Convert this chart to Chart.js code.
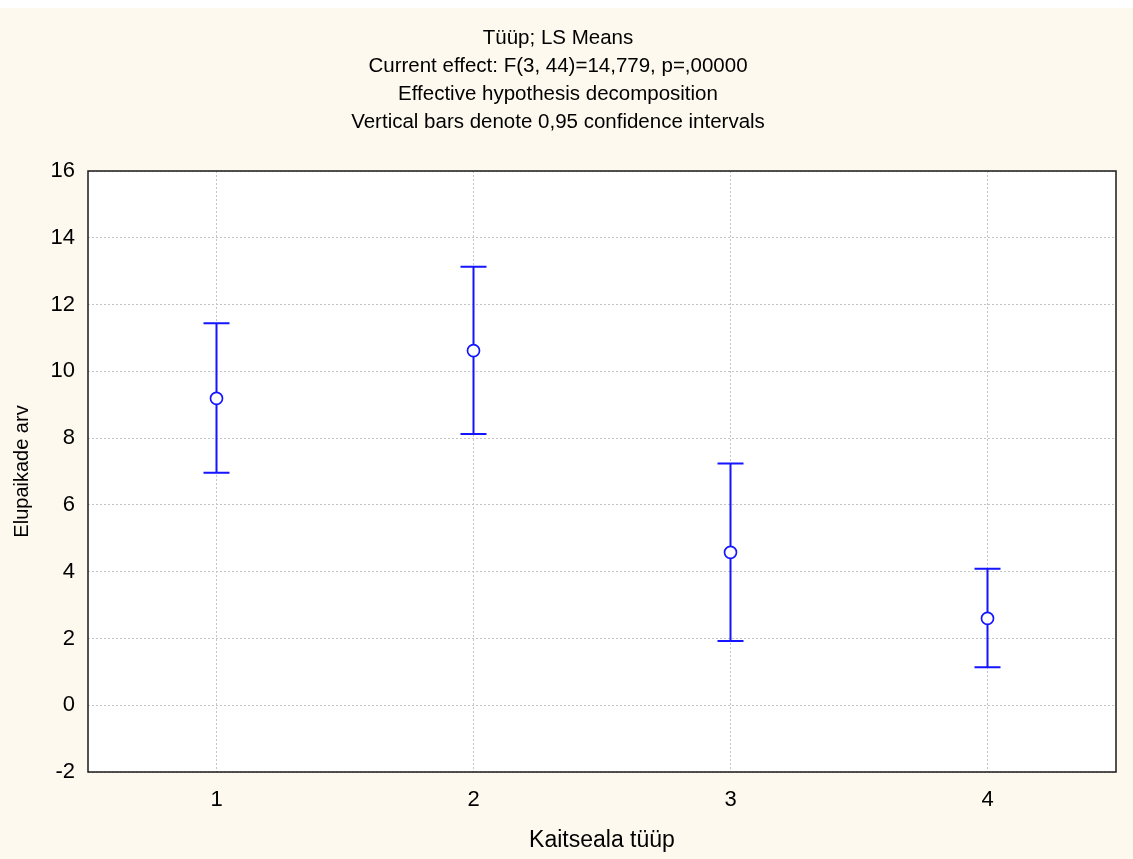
<!DOCTYPE html>
<html>
<head>
<meta charset="utf-8">
<script src="https://cdn.jsdelivr.net/npm/chart.js@4"></script>
<style>
  body { margin: 0; background: #ffffff; }
  #wrap { position: absolute; left: 0; top: 8px; width: 1133px; height: 851px; background: #fdf9ee; }
</style>
</head>
<body>
<div id="wrap"><canvas id="myChart" width="1133" height="851"></canvas></div>
<script>
const categories = ["1", "2", "3", "4"];
const means = [9.19, 10.62, 4.58, 2.6];
const lower = [6.96, 8.12, 1.92, 1.14];
const upper = [11.44, 13.13, 7.24, 4.09];
const yTicks = [-2, 0, 2, 4, 6, 8, 10, 12, 14, 16];

const titleLines = [
  "Tüüp; LS Means",
  "Current effect: F(3, 44)=14,779, p=,00000",
  "Effective hypothesis decomposition",
  "Vertical bars denote 0,95 confidence intervals",
];

const blue = "#1515ff";
const font = "'Liberation Sans', Arial, sans-serif";

// white plot area + black frame
const plotBox = {
  id: "plotBox",
  beforeDraw(chart) {
    const { ctx, chartArea: a } = chart;
    ctx.save();
    ctx.fillStyle = "#ffffff";
    ctx.fillRect(a.left, a.top, a.right - a.left, a.bottom - a.top);
    ctx.restore();
  },
  afterDraw(chart) {
    const { ctx, chartArea: a } = chart;
    ctx.save();
    ctx.strokeStyle = "#1a1a1a";
    ctx.lineWidth = 1.5;
    ctx.strokeRect(a.left, a.top, a.right - a.left, a.bottom - a.top);
    ctx.restore();
  },
};

// confidence interval whiskers
const errorBars = {
  id: "errorBars",
  beforeDatasetsDraw(chart) {
    const { ctx, scales: { x, y } } = chart;
    ctx.save();
    ctx.strokeStyle = blue;
    ctx.lineWidth = 2;
    categories.forEach((c, i) => {
      const px = x.getPixelForValue(i);
      const lo = y.getPixelForValue(lower[i]);
      const hi = y.getPixelForValue(upper[i]);
      ctx.beginPath();
      ctx.moveTo(px, lo);
      ctx.lineTo(px, hi);
      ctx.moveTo(px - 13, lo);
      ctx.lineTo(px + 13, lo);
      ctx.moveTo(px - 13, hi);
      ctx.lineTo(px + 13, hi);
      ctx.stroke();
    });
    ctx.restore();
  },
};

const myChart = new Chart(document.getElementById("myChart").getContext("2d"), {
  type: "line",
  data: {
    labels: categories,
    datasets: [
      {
        data: means,
        showLine: false,
        pointRadius: 6,
        pointHoverRadius: 6,
        pointBackgroundColor: "#ffffff",
        pointBorderColor: blue,
        pointBorderWidth: 1.7,
      },
    ],
  },
  options: {
    responsive: false,
    animation: false,
    layout: { padding: { left: 0, right: 17, top: 0, bottom: 0 } },
    plugins: {
      legend: { display: false },
      tooltip: { enabled: false },
      title: {
        display: true,
        text: titleLines,
        color: "#000000",
        font: { family: font, size: 20.5, weight: "normal", lineHeight: 28 / 20.5 },
        padding: { top: 16, bottom: 35 },
      },
    },
    scales: {
      x: {
        type: "category",
        offset: true,
        grid: { color: "#c4c4c4", borderDash: [2, 2], drawTicks: false, lineWidth: 1 },
        border: { display: false, dash: [2, 2] },
        ticks: { color: "#000000", padding: 15, font: { family: font, size: 22 } },
        title: {
          display: true,
          text: "Kaitseala tüüp",
          color: "#000000",
          font: { family: font, size: 23 },
          padding: { top: 0, bottom: 5 },
        },
        afterFit(scale) { scale.height = 87; },
      },
      y: {
        min: -2,
        max: 16,
        afterBuildTicks(scale) { scale.ticks = yTicks.map((v) => ({ value: v })); },
        grid: { color: "#c4c4c4", drawTicks: false, lineWidth: 1 },
        border: { display: false, dash: [2, 2] },
        ticks: { color: "#000000", padding: 13, font: { family: font, size: 22 } },
        title: {
          display: true,
          text: "Elupaikade arv",
          color: "#000000",
          font: { family: font, size: 20 },
          padding: { top: 10, bottom: 0 },
        },
        afterFit(scale) { scale.width = 88; },
      },
    },
  },
  plugins: [plotBox, errorBars],
});
</script>
</body>
</html>
